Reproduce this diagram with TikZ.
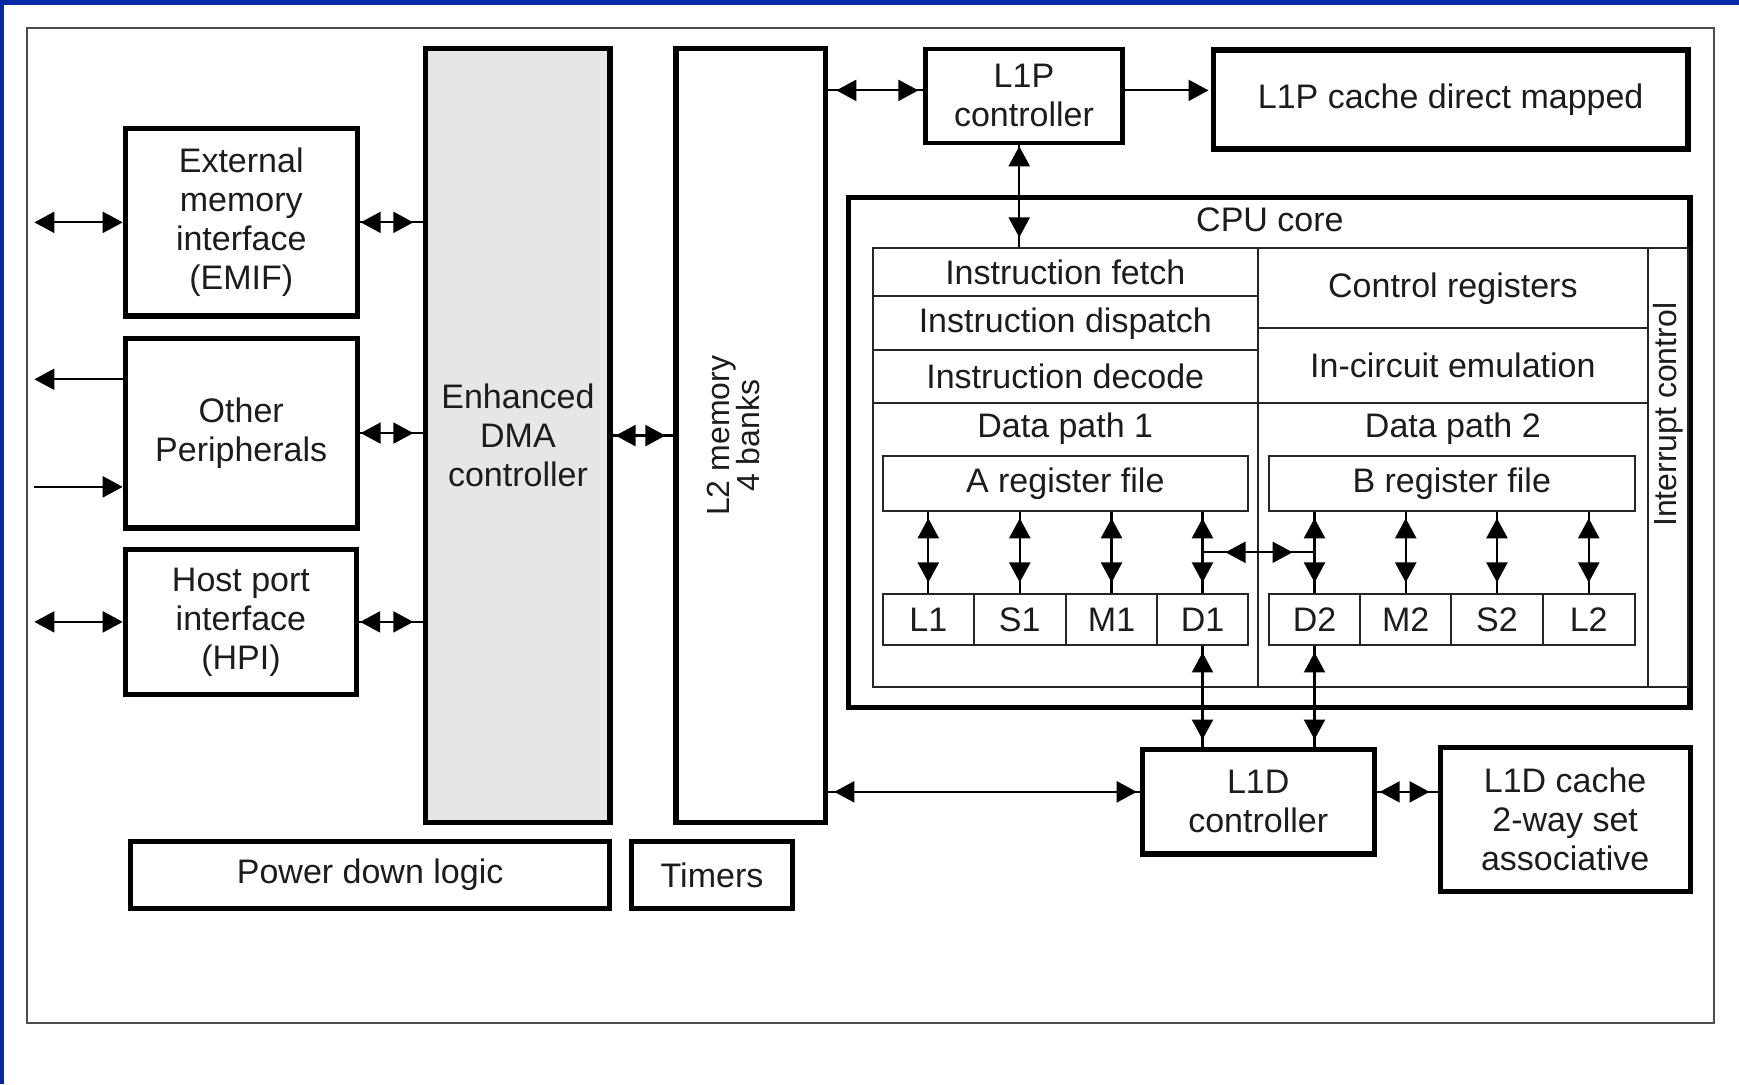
\documentclass[tikz,border=0pt]{standalone}
\usepackage{fontspec}
\setmainfont{Liberation Sans}
\usetikzlibrary{arrows.meta}
\definecolor{frameblue}{RGB}{4,40,165}
\definecolor{ink}{RGB}{28,28,28}
\definecolor{dmagray}{RGB}{230,230,230}
\begin{document}
\begin{tikzpicture}[x=0.554528pt,y=-0.554528pt,
  >={Triangle[length=10pt,width=10.5pt]},
  area/.style n args={4}{at={({(#1+#3)/2},{(#2+#4)/2})},
     minimum width={(#3-#1)*0.554528pt}, minimum height={(#4-#2)*0.554528pt}},
  txt/.style={font=\fontsize{17}{19.5}\selectfont, text=ink, align=center, inner sep=0pt},
  rtxt/.style={font=\fontsize{16}{15}\selectfont, text=ink, align=center, inner sep=0pt, rotate=90},
  blk/.style={draw=black, line width=2.6pt, inner sep=0pt, fill=white, txt},
  cell/.style={draw=black!85, line width=1pt, inner sep=0pt, txt},
  wire/.style={draw=black, line width=1.1pt},
]
\useasboundingbox (0,0) rectangle (1568,977.5);
\fill[white] (0,0) rectangle (1568,977.5);
\fill[frameblue] (0,0) rectangle (1568,4.5);
\fill[frameblue] (0,0) rectangle (3.2,977.5);
\draw[black!70, line width=1.3pt] (24.5,25.2) rectangle (1545.5,922.5);

% ---- left blocks
\node[blk, area={113}{116}{322}{285}] (emif) {External\\memory\\interface\\(EMIF)};
\node[blk, area={113}{305}{322}{476}] (other) {Other\\Peripherals};
\node[blk, area={113}{495.5}{321.5}{626}] (hpi) {Host port\\interface\\(HPI)};
\node[blk, fill=dmagray, area={384}{44}{550}{741.5}] (dma) {Enhanced\\DMA\\controller};
\node[blk, area={609.5}{44}{744.5}{741.5}] (l2) {};
\node[rtxt] (l2txt) at (661,393) {L2 memory\\4 banks};
\node[blk, area={118}{758.5}{549.5}{819.5}] (pdl) {Power down logic};
\node[blk, area={569.5}{758.5}{714.5}{819.5}] (timers) {Timers};

% ---- L1P
\node[blk, line width=2.2pt, area={834.5}{44}{1012}{129}] (l1pc) {L1P\\controller};
\node[blk, line width=2.8pt, area={1094}{45}{1522}{134.5}] (l1pcache) {L1P cache direct mapped};

% ---- CPU core
\node[blk, line width=2.8pt, area={765}{178}{1524}{638}] (cpu) {};
\node[txt] (cputxt) at (1145,198) {CPU core};
\node[cell, area={787}{224}{1134}{267}] (ifetch) {Instruction fetch};
\node[cell, area={787}{267}{1134}{316}] (idisp) {Instruction dispatch};
\node[cell, area={787}{316}{1134}{363}] (idec) {Instruction decode};
\node[cell, area={787}{363}{1134}{619}] (dp1) {};
\node[cell, area={1134}{224}{1486}{296}] (creg) {Control registers};
\node[cell, area={1134}{296}{1486}{363}] (ice) {In-circuit emulation};
\node[cell, area={1134}{363}{1486}{619}] (dp2) {};
\node[cell, area={1486}{224}{1522}{619}] (intc) {};
\node[rtxt] (intctxt) at (1504,374) {Interrupt control};
\node[txt] (dp1txt) at (960.5,387) {Data path 1};
\node[txt] (dp2txt) at (1310,387) {Data path 2};
\node[cell, area={796}{411}{1125}{461}] (rega) {A register file};
\node[cell, area={1144}{411}{1474}{461}] (regb) {B register file};

\foreach \n/\a/\b in {L1/796/878, S1/878/961, M1/961/1043.5, D1/1043.5/1125,
                      D2/1144/1226.5, M2/1226.5/1308.5, S2/1308.5/1391, L2/1391/1474}
  \node[cell, area={\a}{536}{\b}{582}] (u\n) {\n};

% ---- L1D
\node[blk, area={1030}{675.5}{1239}{770}] (l1dc) {L1D\\controller};
\node[blk, area={1298.5}{674}{1524}{804}] (l1dcache) {L1D cache\\2-way set\\associative};

% ---- helper coordinates
\coordinate (xL) at (31,0);
\coordinate (yO1) at (0,342);
\coordinate (yI1) at (0,439);
\coordinate (yT) at (0,81.5);
\coordinate (yB) at (0,714);
\coordinate (yH) at (0,498);
\coordinate (xV) at (919,0);

% ---- external connectors
\draw[wire,<->] (emif.west -| xL) -- (emif.west);
\draw[wire,->] (other.west |- yO1) -- (xL |- yO1);
\draw[wire,->] (xL |- yI1) -- (other.west |- yI1);
\draw[wire,<->] (hpi.west -| xL) -- (hpi.west);

% ---- peripherals <-> DMA
\draw[wire] (emif.east) -- (emif.east -| dma.west);
\draw[wire,<->,shorten <=0.5pt,shorten >=5pt] (emif.east) -- (emif.east -| dma.west);
\draw[wire] (other.east) -- (other.east -| dma.west);
\draw[wire,<->,shorten <=0.5pt,shorten >=5pt] (other.east) -- (other.east -| dma.west);
\draw[wire] (hpi.east) -- (hpi.east -| dma.west);
\draw[wire,<->,shorten <=0.5pt,shorten >=5pt] (hpi.east) -- (hpi.east -| dma.west);
\draw[wire] (dma.east) -- (l2.west);
\draw[wire,<->,shorten <=1.5pt,shorten >=4pt] (dma.east) -- (l2.west);

% ---- L2 <-> L1P, L1P -> cache
\draw[wire] (l2.east |- yT) -- (l1pc.west |- yT);
\draw[wire,<->,shorten <=4pt,shorten >=2.5pt] (l2.east |- yT) -- (l1pc.west |- yT);
\draw[wire,->,shorten >=1pt] (l1pc.east |- yT) -- (l1pcache.west |- yT);

% ---- L1P <-> CPU
\draw[wire] (l1pc.south -| xV) -- (ifetch.north -| xV);
\draw[wire,<->,shorten <=0.5pt,shorten >=5pt] (l1pc.south -| xV) -- (ifetch.north -| xV);

% ---- register files <-> units
\foreach \n in {L1,S1,M1,D1} {
  \draw[wire] (rega.south -| u\n.north) -- (u\n.north);
  \draw[wire,<->,shorten <=3pt,shorten >=5.5pt] (rega.south -| u\n.north) -- (u\n.north);
}
\foreach \n in {D2,M2,S2,L2} {
  \draw[wire] (regb.south -| u\n.north) -- (u\n.north);
  \draw[wire,<->,shorten <=3pt,shorten >=5.5pt] (regb.south -| u\n.north) -- (u\n.north);
}
\draw[wire] (uD1.north |- yH) -- (uD2.north |- yH);
\draw[wire,<->,shorten <=11.5pt,shorten >=11pt] (uD1.north |- yH) -- (uD2.north |- yH);

% ---- units <-> L1D controller
\draw[wire] (uD1.south) -- (uD1.south |- l1dc.north);
\draw[wire,<->,shorten <=3pt,shorten >=3.5pt] (uD1.south) -- (uD1.south |- l1dc.north);
\draw[wire] (uD2.south) -- (uD2.south |- l1dc.north);
\draw[wire,<->,shorten <=3pt,shorten >=3.5pt] (uD2.south) -- (uD2.south |- l1dc.north);

% ---- L2 <-> L1D controller <-> L1D cache
\draw[wire] (l2.east |- yB) -- (l1dc.west |- yB);
\draw[wire,<->,shorten <=3pt,shorten >=1.5pt] (l2.east |- yB) -- (l1dc.west |- yB);
\draw[wire] (l1dc.east |- yB) -- (l1dcache.west |- yB);
\draw[wire,<->,shorten <=1.5pt,shorten >=4pt] (l1dc.east |- yB) -- (l1dcache.west |- yB);
\end{tikzpicture}
\end{document}
